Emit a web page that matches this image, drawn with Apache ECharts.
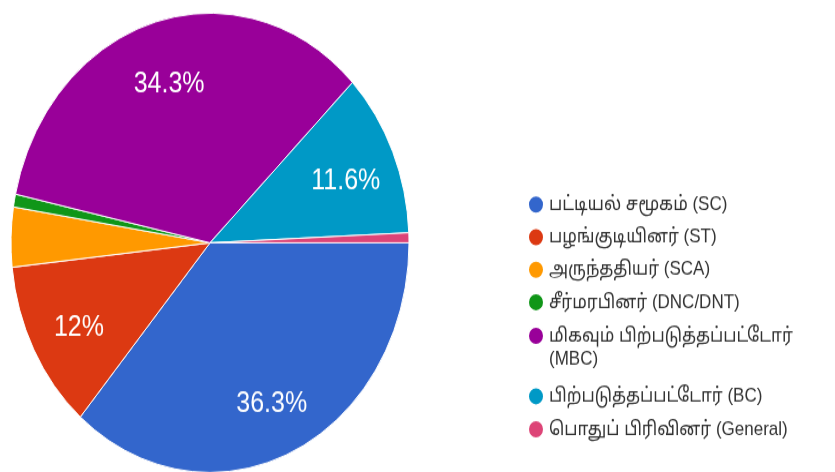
<!DOCTYPE html>
<html>
<head>
<meta charset="utf-8">
<script src="https://cdn.jsdelivr.net/npm/echarts@6/dist/echarts.min.js"></script>
<style>
  html, body { margin: 0; padding: 0; background: #ffffff; overflow: hidden; }
  #wrap { width: 835px; height: 472px; overflow: hidden; }
  /* chart drawn at 409px tall and stretched to the page height */
  #chart { width: 835px; height: 409px; transform: scaleY(1.154); transform-origin: 0 0; }
</style>
</head>
<body>
<div id="wrap"><div id="chart"></div></div>
<script>
// Community categories (Tamil + abbreviation)
const categories = [
  'பட்டியல் சமூகம் (SC)',
  'பழங்குடியினர் (ST)',
  'அருந்ததியர் (SCA)',
  'சீர்மரபினர் (DNC/DNT)',
  'மிகவும் பிற்படுத்தப்பட்டோர் (MBC)',
  'பிற்படுத்தப்பட்டோர் (BC)',
  'பொதுப் பிரிவினர் (General)'
];
// Share of responses, percent
const shares = [36.3, 12, 4.2, 0.9, 34.3, 11.6, 0.7];
const colors = ['#3366cc', '#dc3912', '#ff9900', '#109618', '#990099', '#0099c6', '#dd4477'];

const FONT = 'Arial, "Liberation Sans", "Noto Sans", "Noto Sans Tamil", sans-serif';
const MIN_LABELLED = 5;

const pieData = categories.map((name, i) => ({
  name: name,
  value: shares[i],
  itemStyle: { color: colors[i] }
}));

const labelData = categories.map((name, i) => ({
  name: name,
  value: shares[i],
  label: { show: shares[i] >= MIN_LABELLED }
}));

const legendText = {
  fontFamily: FONT,
  fontSize: 17,
  color: '#333333'
};

function legendBlock(names, top, gap, extra) {
  return Object.assign({
    orient: 'vertical',
    left: 522,
    top: top,
    itemGap: gap,
    icon: 'circle',
    itemWidth: 16,
    itemHeight: 16,
    selectedMode: false,
    textStyle: legendText,
    data: names
  }, extra || {});
}

const chart = echarts.init(document.getElementById('chart'), null, { renderer: 'canvas' });
chart.setOption({
  animation: false,
  backgroundColor: '#ffffff',
  legend: [
    legendBlock(categories.slice(0, 4), 163.3, 10.2),
    // long name wraps onto a second line, first line level with the icon
    legendBlock([categories[4]], 256, 0, {
      textStyle: Object.assign({}, legendText, { lineHeight: 20 }),
      formatter: n => '\n' + n.replace(' (', '\n(')
    }),
    legendBlock(categories.slice(5), 329.4, 10.6)
  ],
  series: [
    {
      type: 'pie',
      center: [210, 210.4],
      radius: [0, 199],
      startAngle: 0,
      clockwise: true,
      silent: true,
      label: { show: false },
      labelLine: { show: false },
      itemStyle: { borderColor: '#ffffff', borderWidth: 1 },
      data: pieData
    },
    {
      // transparent ring that only carries the percentage labels
      type: 'pie',
      center: [210, 215.6],
      radius: [90, 200],
      startAngle: 0,
      clockwise: true,
      silent: true,
      itemStyle: { color: 'rgba(0,0,0,0)' },
      label: {
        position: 'inside',
        formatter: p => p.value + '%',
        color: '#ffffff',
        fontFamily: FONT,
        fontSize: 25
      },
      labelLine: { show: false },
      data: labelData
    }
  ]
});
</script>
</body>
</html>
